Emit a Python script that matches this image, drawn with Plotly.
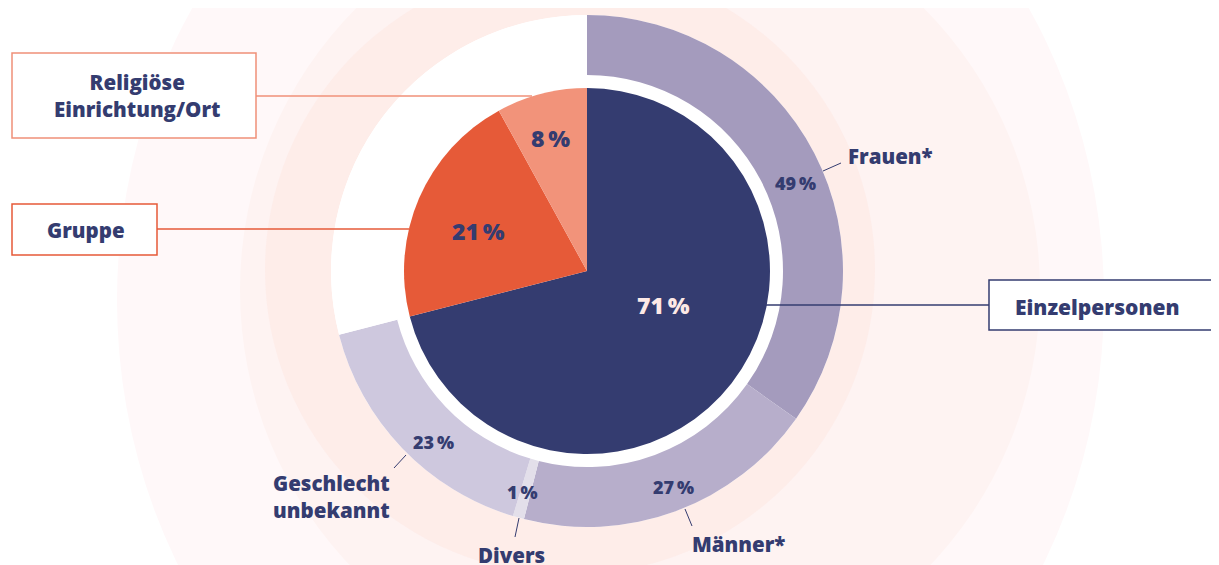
import plotly.graph_objects as go

# ---------------- data ----------------
inner_labels = ["Einzelpersonen", "Gruppe", "Religiöse Einrichtung/Ort"]
inner_values = [71, 21, 8]
inner_colors = ["#343c70", "#e65a38", "#f2937a"]

outer_labels = ["Frauen*", "Männer*", "Divers", "Geschlecht unbekannt"]
outer_values = [49, 27, 1, 23]          # share of Einzelpersonen, %
outer_colors = ["#a49bbd", "#b7aecb", "#e3dfea", "#cec8de"]

W, H = 1219, 565
OFF = 8                    # page body margin
CX, CY = 587, 271          # centre in px (from top of window)
R_OUT, R_HOLE, R_IN = 256, 196, 183
NAVY = "#343c70"
FONT = "Open Sans"


def px(x):
    return (x - OFF) / W


def py(y):
    return 1 - (y - OFF) / H


# outer ring = breakdown of the Einzelpersonen slice, remainder blank
einzel = inner_values[0]
ring_values = [v * einzel / 100 for v in outer_values] + [100 - einzel]
ring_colors = outer_colors + ["#ffffff"]

fig = go.Figure()

fig.add_trace(go.Pie(
    values=ring_values,
    labels=outer_labels + ["rest"],
    marker=dict(colors=ring_colors, line=dict(width=0)),
    hole=R_HOLE / R_OUT,
    sort=False, direction="clockwise", rotation=0,
    textinfo="none", hoverinfo="skip", showlegend=False,
    domain=dict(x=[px(CX - R_OUT), px(CX + R_OUT)], y=[py(CY + R_OUT), py(CY - R_OUT)]),
))

fig.add_trace(go.Pie(
    values=inner_values,
    labels=inner_labels,
    marker=dict(colors=inner_colors, line=dict(width=0)),
    sort=False, direction="clockwise", rotation=0,
    textinfo="none", hoverinfo="skip", showlegend=False,
    domain=dict(x=[px(CX - R_IN), px(CX + R_IN)], y=[py(CY + R_IN), py(CY - R_IN)]),
))

shapes = []


def blob(x0, y0, x1, y1, color, op):
    shapes.append(dict(type="circle", xref="paper", yref="paper", layer="below",
                       x0=px(x0), x1=px(x1), y0=py(y1), y1=py(y0),
                       fillcolor=color, opacity=op, line=dict(width=0)))


# soft watercolor-like background
blob(117, -250, 1104, 850, "#fff8f9", 1)
blob(240, -110, 1040, 690, "#fef3f2", 1)
blob(265, -35, 875, 575, "#fdeae6", 0.7)
# white disc behind the chart (gap ring and blank part)
blob(CX - R_OUT, CY - R_OUT, CX + R_OUT, CY + R_OUT, "#ffffff", 1)


def box(x0, y0, x1, y1, color):
    shapes.append(dict(type="rect", xref="paper", yref="paper", layer="above",
                       x0=px(x0), x1=px(x1), y0=py(y1), y1=py(y0),
                       fillcolor="#ffffff", line=dict(color=color, width=1.5)))


def seg(x0, y0, x1, y1, color, w=1.3):
    shapes.append(dict(type="line", xref="paper", yref="paper", layer="above",
                       x0=px(x0), x1=px(x1), y0=py(y0), y1=py(y1),
                       line=dict(color=color, width=w)))


seg(256, 96, 532, 96, "#f09078")
seg(157, 229, 409, 229, "#e65a38")
seg(766, 305, 989, 305, NAVY)
box(12, 53, 256, 138, "#f09078")
box(12, 204, 157, 255, "#e65a38")
box(989, 280, 1240, 330, NAVY)

seg(823, 171, 841, 163, NAVY, 1)
seg(685, 509, 692, 526, NAVY, 1)
seg(519, 518, 515, 537, NAVY, 1)
seg(406, 455, 394, 468, NAVY, 1)

fig.update_layout(shapes=shapes)

ann = []


def text(x, y, s, size, color=NAVY, weight=800, anchor="center"):
    ann.append(dict(x=px(x), y=py(y), xref="paper", yref="paper", text=s,
                    showarrow=False, xanchor=anchor, yanchor="middle",
                    font=dict(family=FONT, size=size, color=color, weight=weight)))


NS = "\u2009%"
text(137, 95, "Religiöse<br>Einrichtung/Ort", 20.5)
text(86, 230, inner_labels[1], 20.5)
text(1013, 307, inner_labels[0], 21, anchor="left")
text(890, 156, outer_labels[0], 20.5)
text(738, 544, outer_labels[1], 20.5)
text(511, 555, outer_labels[2], 20.5)
text(331, 497, "Geschlecht<br>unbekannt", 20.5)

text(663, 305, f"{inner_values[0]}{NS}", 23, color="#fde9e6")
text(478, 231, f"{inner_values[1]}{NS}", 23)
text(550, 138, f"{inner_values[2]}{NS}", 23)

text(795, 183, f"{outer_values[0]}{NS}", 18)
text(673, 487, f"{outer_values[1]}{NS}", 18)
text(522, 492, f"{outer_values[2]}{NS}", 18)
text(433, 442, f"{outer_values[3]}{NS}", 18)

fig.update_layout(
    annotations=ann,
    width=W, height=H,
    margin=dict(l=0, r=0, t=0, b=0),
    paper_bgcolor="#ffffff", plot_bgcolor="#ffffff",
)

fig.write_html("out.html")
